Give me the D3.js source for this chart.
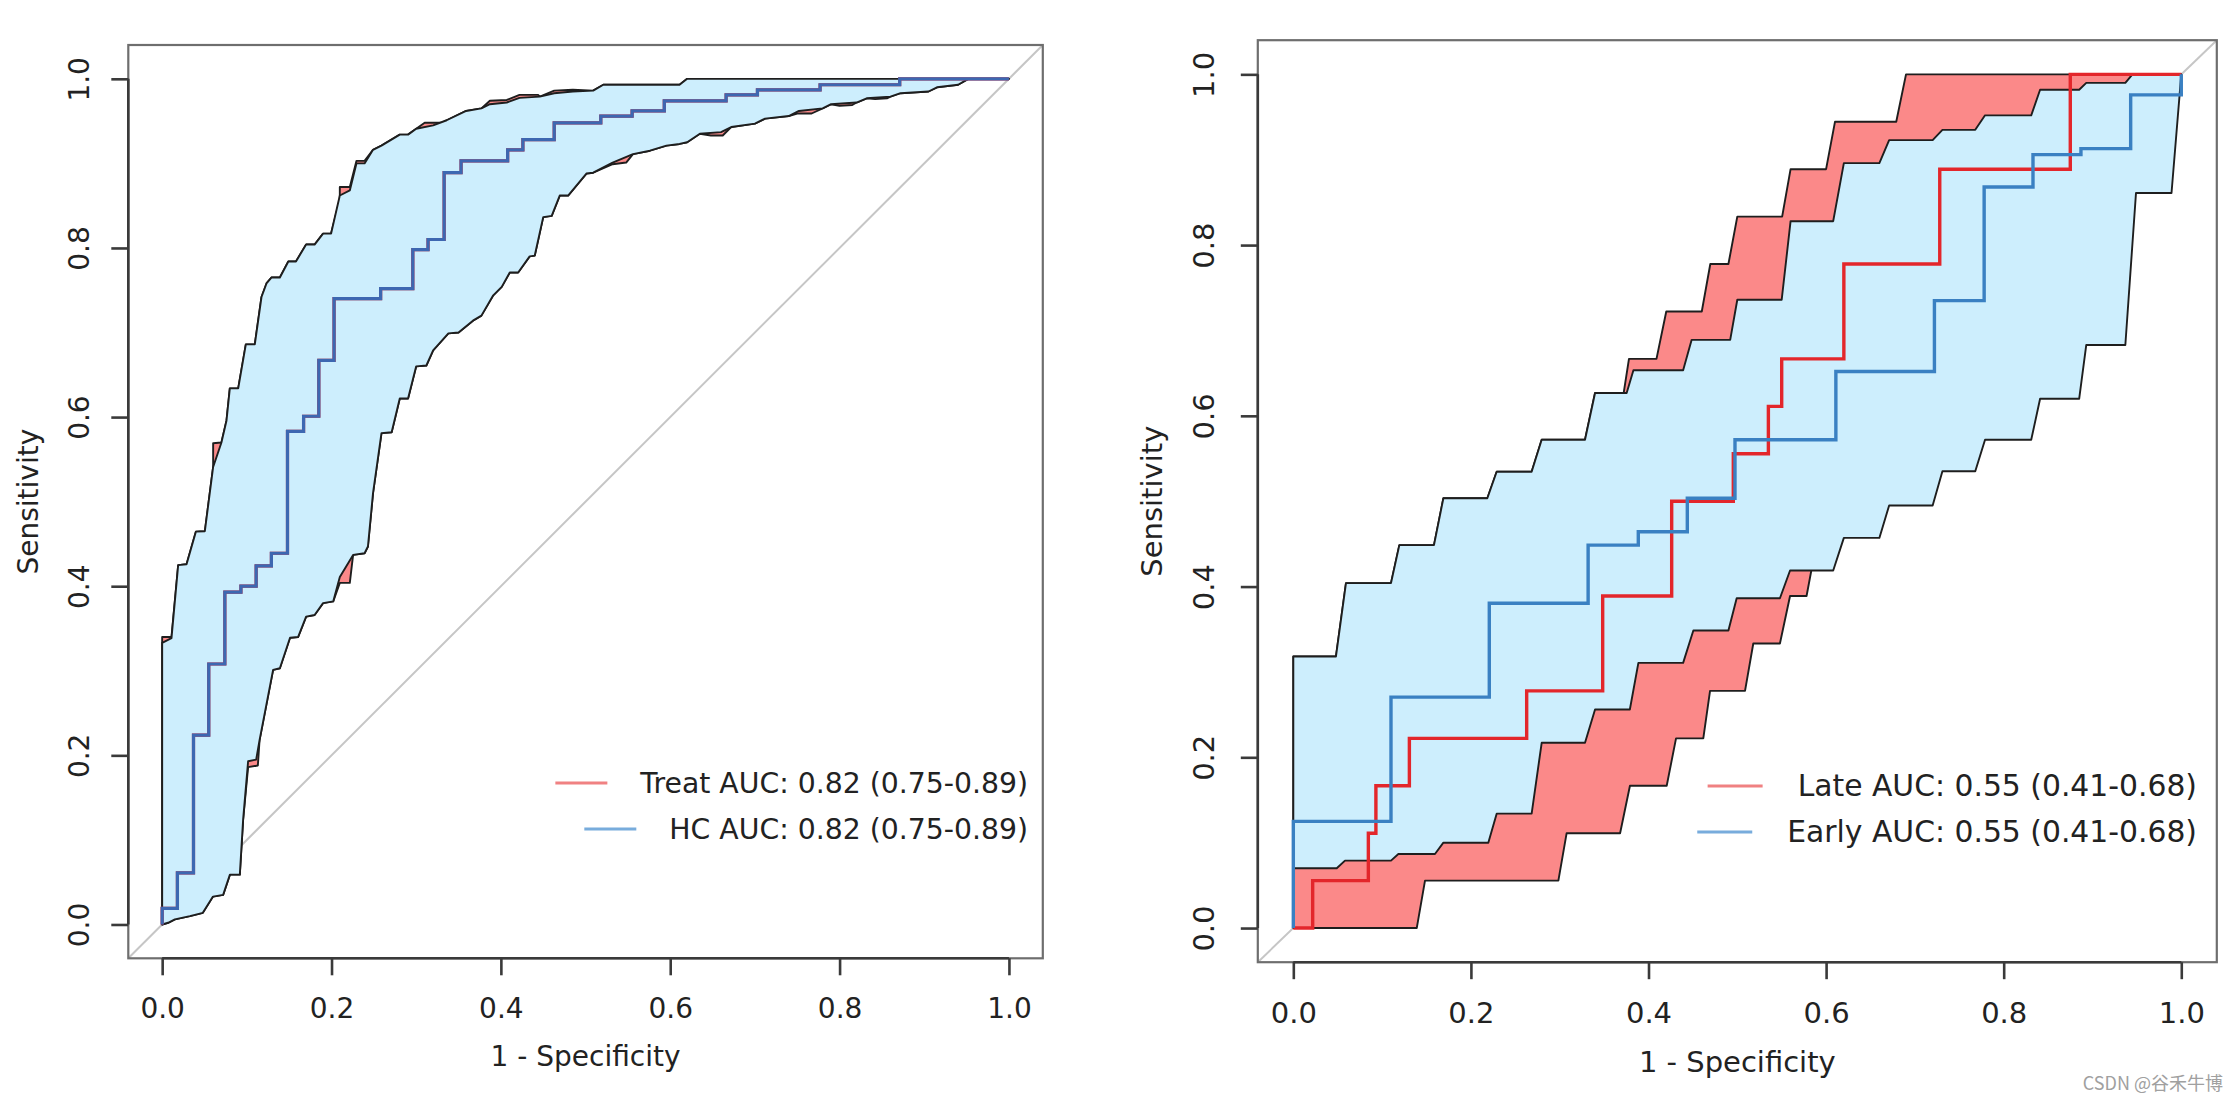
<!DOCTYPE html>
<html><head><meta charset="utf-8">
<script src="https://cdn.jsdelivr.net/npm/d3@7"></script>
<style>html,body{margin:0;padding:0;background:#fff;}svg{display:block;}</style>
</head><body>
<svg id="chart" width="2238" height="1102"></svg>
<script>
// ---------------- data ----------------
const tickValues = [0, 0.2, 0.4, 0.6, 0.8, 1.0];
const tickLabels = ["0.0", "0.2", "0.4", "0.6", "0.8", "1.0"];
const xTitle = "1 - Specificity";
const yTitle = "Sensitivity";
const watermark = "CSDN @谷禾牛博";

// Left panel
const leftLegend = ["Treat AUC: 0.82 (0.75-0.89)", "HC AUC: 0.82 (0.75-0.89)"];
const treatRoc = [[0,0],[0,0.019],[0.018,0.061],[0.037,0.224],[0.055,0.308],[0.074,0.393],[0.093,0.400],[0.111,0.424],[0.129,0.439],[0.148,0.583],[0.167,0.601],[0.185,0.667],[0.203,0.740],[0.258,0.752],[0.296,0.798],[0.314,0.810],[0.333,0.889],[0.353,0.903],[0.408,0.916],[0.426,0.928],[0.463,0.948],[0.518,0.956],[0.555,0.962],[0.593,0.974],[0.666,0.981],[0.703,0.987],[0.777,0.993],[0.871,1.0],[1.0,1.0]];
const hcRoc = [[0,0],[0,0.019],[0.018,0.061],[0.037,0.224],[0.055,0.308],[0.074,0.393],[0.093,0.400],[0.111,0.424],[0.129,0.439],[0.148,0.583],[0.167,0.601],[0.185,0.667],[0.203,0.740],[0.258,0.752],[0.296,0.798],[0.314,0.810],[0.333,0.889],[0.353,0.903],[0.408,0.916],[0.426,0.928],[0.463,0.948],[0.518,0.956],[0.555,0.962],[0.593,0.974],[0.666,0.981],[0.703,0.987],[0.777,0.993],[0.871,1.0],[1.0,1.0]];
const hcCiUpper = [[0,0],[0,0.333],[0.011,0.3385],[0.0189,0.425],[0.0288,0.426],[0.0398,0.4645],[0.0504,0.465],[0.0602,0.541],[0.070,0.570],[0.076,0.596],[0.0799,0.634],[0.0898,0.634],[0.0988,0.686],[0.1094,0.686],[0.1173,0.742],[0.1232,0.758],[0.129,0.765],[0.139,0.765],[0.149,0.784],[0.158,0.784],[0.170,0.804],[0.180,0.804],[0.190,0.817],[0.1995,0.817],[0.2098,0.862],[0.2216,0.868],[0.2295,0.900],[0.239,0.900],[0.249,0.916],[0.259,0.921],[0.2806,0.934],[0.2904,0.934],[0.300,0.941],[0.320,0.945],[0.336,0.951],[0.359,0.962],[0.377,0.965],[0.387,0.970],[0.407,0.972],[0.422,0.9775],[0.446,0.979],[0.463,0.983],[0.485,0.985],[0.509,0.986],[0.521,0.993],[0.611,0.993],[0.62,1.0],[1,1]];
const hcCiLower = [[0,0],[0.007,0.002],[0.015,0.006],[0.0327,0.0098],[0.048,0.0138],[0.060,0.033],[0.072,0.035],[0.080,0.059],[0.0917,0.059],[0.0956,0.124],[0.1015,0.193],[0.111,0.195],[0.115,0.218],[0.131,0.301],[0.139,0.303],[0.151,0.339],[0.1606,0.340],[0.170,0.364],[0.180,0.366],[0.190,0.380],[0.202,0.382],[0.2098,0.411],[0.2255,0.437],[0.239,0.439],[0.243,0.447],[0.249,0.51],[0.259,0.581],[0.271,0.582],[0.2806,0.622],[0.2904,0.622],[0.300,0.660],[0.312,0.661],[0.320,0.679],[0.338,0.699],[0.350,0.700],[0.367,0.714],[0.377,0.720],[0.391,0.744],[0.401,0.754],[0.4105,0.771],[0.4204,0.771],[0.434,0.790],[0.440,0.791],[0.450,0.8365],[0.460,0.838],[0.4695,0.862],[0.4794,0.862],[0.501,0.888],[0.509,0.889],[0.532,0.901],[0.556,0.911],[0.576,0.915],[0.5955,0.921],[0.611,0.923],[0.62,0.925],[0.635,0.935],[0.66,0.937],[0.672,0.943],[0.70,0.947],[0.712,0.953],[0.74,0.956],[0.752,0.962],[0.78,0.965],[0.79,0.970],[0.82,0.972],[0.832,0.977],[0.86,0.979],[0.872,0.983],[0.905,0.985],[0.915,0.99],[0.94,0.993],[0.952,1.0],[1,1]];
const treatCiUpper = [[0,0],[0,0.340],[0.011,0.340],[0.0189,0.425],[0.0288,0.426],[0.0398,0.4645],[0.0504,0.465],[0.0602,0.541],[0.0602,0.569],[0.070,0.570],[0.076,0.596],[0.0799,0.634],[0.0898,0.634],[0.0988,0.686],[0.1094,0.686],[0.1173,0.742],[0.1232,0.758],[0.129,0.765],[0.139,0.765],[0.149,0.784],[0.158,0.784],[0.170,0.804],[0.180,0.804],[0.190,0.817],[0.1995,0.817],[0.2098,0.858],[0.2098,0.872],[0.2216,0.872],[0.2295,0.903],[0.239,0.903],[0.249,0.916],[0.259,0.921],[0.2806,0.934],[0.2904,0.934],[0.300,0.941],[0.310,0.948],[0.330,0.948],[0.336,0.951],[0.359,0.962],[0.377,0.965],[0.387,0.974],[0.407,0.975],[0.422,0.981],[0.444,0.981],[0.446,0.979],[0.463,0.986],[0.485,0.987],[0.509,0.986],[0.521,0.993],[0.611,0.993],[0.62,1.0],[1,1]];
const treatCiLower = [[0,0],[0.007,0.002],[0.015,0.006],[0.0327,0.0098],[0.048,0.0138],[0.060,0.033],[0.072,0.035],[0.080,0.059],[0.0917,0.059],[0.0956,0.124],[0.1015,0.186],[0.113,0.188],[0.115,0.218],[0.131,0.301],[0.139,0.303],[0.151,0.339],[0.1606,0.340],[0.170,0.364],[0.180,0.366],[0.190,0.380],[0.202,0.382],[0.2098,0.404],[0.2216,0.404],[0.2255,0.437],[0.239,0.439],[0.243,0.447],[0.249,0.51],[0.259,0.581],[0.271,0.582],[0.2806,0.622],[0.2904,0.622],[0.300,0.660],[0.312,0.661],[0.320,0.679],[0.338,0.699],[0.350,0.700],[0.367,0.714],[0.377,0.720],[0.391,0.744],[0.401,0.754],[0.4105,0.771],[0.4204,0.771],[0.434,0.790],[0.440,0.791],[0.450,0.8365],[0.460,0.838],[0.4695,0.862],[0.4794,0.862],[0.501,0.888],[0.509,0.889],[0.532,0.899],[0.548,0.901],[0.556,0.911],[0.576,0.915],[0.5955,0.921],[0.611,0.923],[0.62,0.925],[0.635,0.935],[0.648,0.933],[0.662,0.933],[0.672,0.943],[0.70,0.947],[0.712,0.953],[0.74,0.956],[0.75,0.959],[0.767,0.959],[0.78,0.965],[0.79,0.970],[0.80,0.968],[0.815,0.969],[0.82,0.972],[0.832,0.977],[0.842,0.976],[0.856,0.977],[0.86,0.979],[0.872,0.983],[0.905,0.985],[0.915,0.99],[0.94,0.993],[0.952,1.0],[1,1]];

// Right panel
const rightLegend = ["Late AUC: 0.55 (0.41-0.68)", "Early AUC: 0.55 (0.41-0.68)"];
const lateRoc = [[0,0],[0.0218,0.0556],[0.0845,0.1111],[0.093,0.1667],[0.1307,0.2222],[0.2628,0.2778],[0.3484,0.3889],[0.4261,0.5],[0.4955,0.5556],[0.535,0.6111],[0.55,0.6667],[0.62,0.7778],[0.728,0.8889],[0.875,1.0],[1.0,1.0]];
const earlyRoc = [[0,0],[0,0.125],[0.110,0.2705],[0.2207,0.3805],[0.332,0.4486],[0.3885,0.4642],[0.4437,0.5034],[0.4974,0.572],[0.611,0.652],[0.722,0.735],[0.778,0.868],[0.833,0.906],[0.887,0.913],[0.943,0.976],[1.0,1.0]];
const earlyCiUpper = [[0,0.070],[0,0.318],[0.048,0.318],[0.0593,0.404],[0.110,0.404],[0.1194,0.4486],[0.1584,0.4486],[0.169,0.5034],[0.2185,0.5034],[0.229,0.5345],[0.2684,0.5345],[0.2797,0.572],[0.3285,0.572],[0.3398,0.6267],[0.3754,0.6267],[0.383,0.6534],[0.439,0.6534],[0.4486,0.689],[0.492,0.689],[0.5,0.736],[0.55,0.736],[0.56,0.828],[0.608,0.828],[0.62,0.896],[0.66,0.896],[0.671,0.923],[0.72,0.923],[0.731,0.935],[0.768,0.935],[0.779,0.952],[0.831,0.952],[0.841,0.982],[0.885,0.982],[0.893,0.99],[0.937,0.99],[0.945,1.0],[1.0,1.0]];
const earlyCiLower = [[0,0.070],[0.0489,0.070],[0.0582,0.079],[0.110,0.079],[0.1183,0.0867],[0.1595,0.0867],[0.169,0.1],[0.2196,0.1],[0.229,0.134],[0.2684,0.134],[0.2797,0.217],[0.3285,0.217],[0.3398,0.256],[0.379,0.256],[0.3886,0.3106],[0.439,0.3106],[0.4505,0.3485],[0.490,0.3485],[0.4993,0.3863],[0.548,0.3863],[0.5594,0.4188],[0.608,0.4188],[0.62,0.457],[0.66,0.457],[0.671,0.495],[0.72,0.495],[0.731,0.535],[0.768,0.535],[0.779,0.572],[0.831,0.572],[0.841,0.62],[0.885,0.62],[0.893,0.683],[0.937,0.683],[0.949,0.861],[0.989,0.861],[1.0,1.0]];
const lateCiUpper = [[0,0],[0,0.318],[0.048,0.318],[0.0593,0.404],[0.110,0.404],[0.1194,0.4486],[0.1584,0.4486],[0.169,0.5034],[0.2185,0.5034],[0.229,0.5345],[0.2684,0.5345],[0.2797,0.572],[0.3285,0.572],[0.3398,0.6267],[0.372,0.6267],[0.378,0.6667],[0.409,0.6667],[0.42,0.7222],[0.46,0.7222],[0.4696,0.7778],[0.49,0.7778],[0.5,0.8333],[0.5505,0.8333],[0.56,0.8889],[0.6,0.8889],[0.61,0.9444],[0.679,0.9444],[0.69,1.0],[1.0,1.0]];
const lateCiLower = [[0,0],[0.139,0],[0.1483,0.0556],[0.2985,0.0556],[0.3078,0.1111],[0.368,0.1111],[0.3791,0.1667],[0.4205,0.1667],[0.431,0.2222],[0.4617,0.2222],[0.4693,0.2778],[0.5087,0.2778],[0.518,0.3333],[0.548,0.3333],[0.5594,0.3889],[0.578,0.3889],[0.588,0.4444],[0.612,0.4444],[0.622,0.5],[0.668,0.5],[0.678,0.5556],[0.722,0.5556],[0.732,0.6111],[0.77,0.6111],[0.78,0.6667],[0.83,0.6667],[0.84,0.7222],[0.884,0.7222],[0.892,0.7778],[0.936,0.7778],[0.946,0.8889],[0.986,0.8889],[0.992,0.9444],[1.0,1.0]];

// ---------------- drawing ----------------
const svg = d3.select("#chart");
const FONT = "'DejaVu Sans', Verdana, sans-serif";

function drawPanel(cfg) {
  const x = d3.scaleLinear().domain([-0.04, 1.04]).range([cfg.left, cfg.right]);
  const y = d3.scaleLinear().domain([-0.04, 1.04]).range([cfg.bottom, cfg.top]);
  const g = svg.append("g");
  const line = d3.line().x(d => x(d[0])).y(d => y(d[1]));
  const step = d3.line().x(d => x(d[0])).y(d => y(d[1])).curve(d3.curveStepAfter);

  // diagonal reference line
  g.append("line")
    .attr("x1", x(-0.04)).attr("y1", y(-0.04)).attr("x2", x(1.04)).attr("y2", y(1.04))
    .attr("stroke", "#c6c6c6").attr("stroke-width", 2);

  // confidence bands
  cfg.bands.forEach(b => {
    const pts = b.upper.concat(b.lower.slice().reverse());
    g.append("path").attr("d", line(pts) + "Z")
      .attr("fill", b.fill).attr("stroke", "#1e1e1e").attr("stroke-width", 1.9)
      .attr("stroke-linejoin", "round");
  });

  // ROC curves
  cfg.rocs.forEach(r => {
    g.append("path").attr("d", step(r.data))
      .attr("fill", "none").attr("stroke", r.color).attr("stroke-width", r.width || 3.4);
  });

  // box
  g.append("rect").attr("x", cfg.left).attr("y", cfg.top)
    .attr("width", cfg.right - cfg.left).attr("height", cfg.bottom - cfg.top)
    .attr("fill", "none").attr("stroke", "#6e6e6e").attr("stroke-width", 2.2);

  // axes
  const xAxis = d3.axisBottom(x).tickValues(tickValues).tickSize(17).tickPadding(0)
    .tickFormat((d, i) => tickLabels[i]);
  const ax = g.append("g").attr("transform", `translate(0,${cfg.bottom})`).call(xAxis);
  ax.select(".domain").attr("d", `M${x(0)},0H${x(1)}`).attr("stroke", "#3a3a3a").attr("stroke-width", 2.6);
  ax.selectAll(".tick line").attr("stroke", "#3a3a3a").attr("stroke-width", 2.6);
  ax.selectAll(".tick text").attr("y", cfg.xLabOff).attr("dy", "0.35em")
    .attr("font-family", FONT).attr("font-size", cfg.fs).attr("fill", "#222");

  const yAxis = d3.axisLeft(y).tickValues(tickValues).tickSize(17).tickPadding(0)
    .tickFormat((d, i) => tickLabels[i]);
  const ay = g.append("g").attr("transform", `translate(${cfg.left},0)`).call(yAxis);
  ay.select(".domain").attr("d", `M0,${y(0)}V${y(1)}`).attr("stroke", "#3a3a3a").attr("stroke-width", 2.6);
  ay.selectAll(".tick line").attr("stroke", "#3a3a3a").attr("stroke-width", 2.6);
  ay.selectAll(".tick text")
    .attr("x", null).attr("dy", null)
    .attr("transform", `translate(${-cfg.yLabOff},0) rotate(-90)`)
    .attr("text-anchor", "middle").attr("dy", "0.35em")
    .attr("font-family", FONT).attr("font-size", cfg.fs).attr("fill", "#222");

  // titles
  g.append("text").attr("x", (cfg.left + cfg.right) / 2).attr("y", cfg.bottom + cfg.xTitleOff)
    .attr("dy", "0.35em").attr("text-anchor", "middle")
    .attr("font-family", FONT).attr("font-size", cfg.fs).attr("fill", "#222").text(xTitle);
  g.append("text")
    .attr("transform", `translate(${cfg.left - cfg.yTitleOff},${(cfg.top + cfg.bottom) / 2}) rotate(-90)`)
    .attr("dy", "0.35em").attr("text-anchor", "middle")
    .attr("font-family", FONT).attr("font-size", cfg.fs).attr("fill", "#222").text(yTitle);

  // legend
  cfg.legend.forEach((it, i) => {
    const ty = cfg.legY + i * cfg.legGap;
    const t = g.append("text").attr("x", cfg.legRight).attr("y", ty).attr("dy", "0.35em")
      .attr("text-anchor", "end").attr("font-family", FONT).attr("font-size", cfg.legFs)
      .attr("fill", "#222").text(it.label);
    const w = t.node().getComputedTextLength();
    const start = cfg.legRight - w;
    g.append("line").attr("x1", start - cfg.legGapLine - cfg.legLine).attr("x2", start - cfg.legGapLine)
      .attr("y1", ty).attr("y2", ty).attr("stroke", it.color).attr("stroke-width", 3);
  });
}

drawPanel({
  left: 128.3, right: 1042.8, top: 45, bottom: 958.3,
  fs: 28, legFs: 28.3, xLabOff: 50, xTitleOff: 98, yLabOff: 49, yTitleOff: 100,
  bands: [
    { upper: treatCiUpper, lower: treatCiLower, fill: "#fb8989" },
    { upper: hcCiUpper, lower: hcCiLower, fill: "#cdeefd" }
  ],
  rocs: [
    { data: treatRoc, color: "#e0252a", width: 3.2 },
    { data: hcRoc, color: "#3d67b1", width: 3.2 }
  ],
  legend: [
    { label: leftLegend[0], color: "#f08182" },
    { label: leftLegend[1], color: "#78acdc" }
  ],
  legRight: 1028, legY: 783, legGap: 46, legGapLine: 33, legLine: 52
});

drawPanel({
  left: 1257.8, right: 2216.8, top: 40.2, bottom: 962.2,
  fs: 29, legFs: 29.8, xLabOff: 51, xTitleOff: 100, yLabOff: 53.5, yTitleOff: 105.5,
  bands: [
    { upper: lateCiUpper, lower: lateCiLower, fill: "#fb8989" },
    { upper: earlyCiUpper, lower: earlyCiLower, fill: "#cdeefd" }
  ],
  rocs: [
    { data: lateRoc, color: "#e3262b", width: 3.4 },
    { data: earlyRoc, color: "#3a80c2", width: 3.4 }
  ],
  legend: [
    { label: rightLegend[0], color: "#f08182" },
    { label: rightLegend[1], color: "#78acdc" }
  ],
  legRight: 2197, legY: 786, legGap: 46, legGapLine: 35, legLine: 55
});

// watermark
svg.append("text").attr("x", 2223).attr("y", 1084).attr("dy", "0.35em").attr("text-anchor", "end")
  .attr("font-family", "'Noto Sans CJK SC', 'Noto Sans', sans-serif").attr("font-size", 18)
  .attr("fill", "#a0a0a0").text(watermark);
</script>
</body></html>
